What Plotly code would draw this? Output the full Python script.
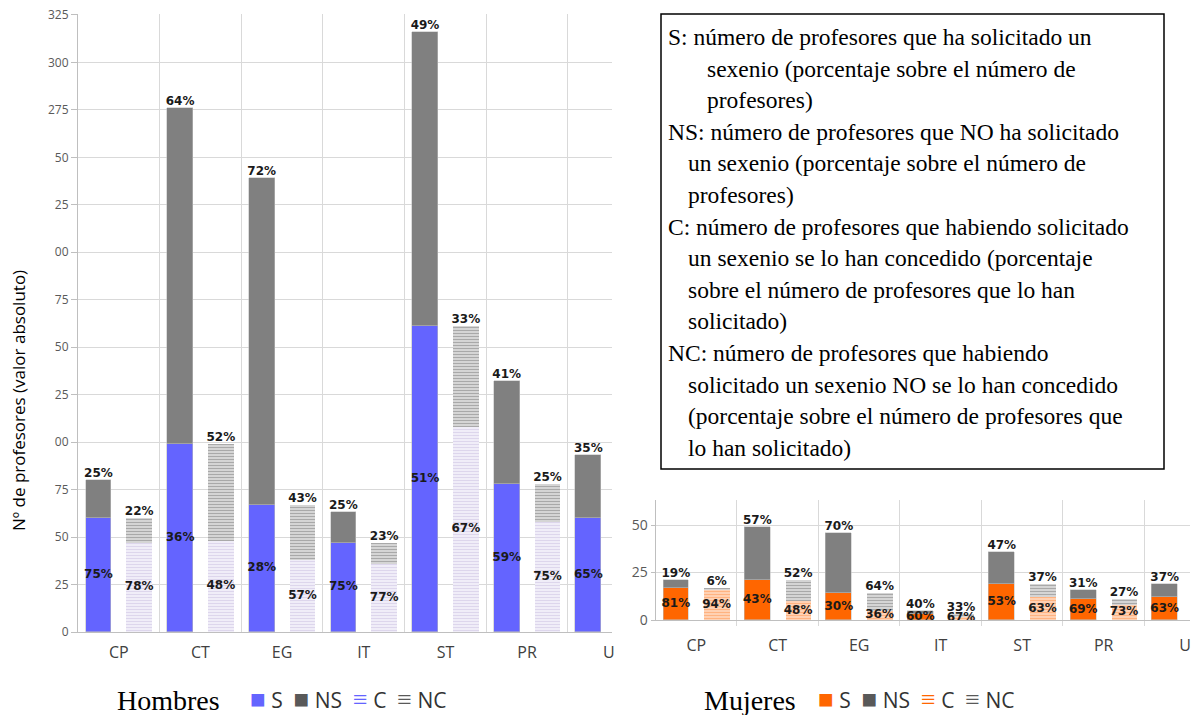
import plotly.graph_objects as go

# ---------------- data ----------------
categories = ["CP", "CT", "EG", "IT", "ST", "PR", "U"]

# Hombres
h_S = [60, 99, 67, 47, 161, 78, 60]
h_NS = [20, 177, 172, 16, 155, 54, 33]
h_C = [47, 48, 38, 36, 108, 58, None]
h_NC = [13, 51, 29, 11, 53, 20, None]
h_S_pct = ["75%", "36%", "28%", "75%", "51%", "59%", "65%"]
h_NS_pct = ["25%", "64%", "72%", "25%", "49%", "41%", "35%"]
h_C_pct = ["78%", "48%", "57%", "77%", "67%", "75%", None]
h_NC_pct = ["22%", "52%", "43%", "23%", "33%", "25%", None]

# Mujeres
m_S = [17, 21, 14, 3, 19, 11, 12]
m_NS = [4, 28, 32, 2, 17, 5, 7]
m_C = [16, 10, 5, 2, 12, 8, None]
m_NC = [1, 11, 9, 1, 7, 3, None]
m_S_pct = ["81%", "43%", "30%", "60%", "53%", "69%", "63%"]
m_NS_pct = ["19%", "57%", "70%", "40%", "47%", "31%", "37%"]
m_C_pct = ["94%", "48%", "36%", "67%", "63%", "73%", None]
m_NC_pct = ["6%", "52%", "64%", "33%", "37%", "27%", None]

h_yticks = [0, 25, 50, 75, 100, 125, 150, 175, 200, 225, 250, 275, 300, 325]
h_yticktext = ["0", "25", "50", "75", "00", "25", "50", "75", "00", "25", "50", "275", "300", "325"]
m_yticks = [0, 25, 50]

legend_text = [
    "S: número de profesores que ha solicitado un",
    "sexenio (porcentaje sobre el número de",
    "profesores)",
    "NS: número de profesores que NO ha solicitado",
    "un sexenio (porcentaje sobre el número de",
    "profesores)",
    "C: número de profesores que habiendo solicitado",
    "un sexenio se lo han concedido (porcentaje",
    "sobre el número de profesores que lo han",
    "solicitado)",
    "NC: número de profesores que habiendo",
    "solicitado un sexenio NO se lo han concedido",
    "(porcentaje sobre el número de profesores que",
    "lo han solicitado)",
]
legend_indent = [0, 2, 2, 0, 1, 1, 0, 1, 1, 1, 0, 1, 1, 1]

# ---------------- styles ----------------
W, H = 1193, 715
BLUE = "#6464ff"
ORANGE = "#ff6600"
GRAY = "#808080"
DARK = "#595959"
GRID = "#d9d9d9"
OFF = 0.25
BW = 0.315
LBL_FONT = dict(family="DejaVu Sans", size=12, color="#1a1a1a", weight="bold")

fig = go.Figure()


def add_group(S, NS, C, NC, Sp, NSp, Cp, NCp, s_color, c_fg, c_bg, xa, ya):
    n = len(categories)
    xl = [i - OFF for i in range(n)]
    xr = [i + OFF for i in range(n)]
    edge = dict(color="rgba(190,190,190,0.9)", width=0.6)
    fig.add_trace(go.Bar(x=xl, y=S, width=BW, marker=dict(color=s_color, line=edge),
                         xaxis=xa, yaxis=ya, showlegend=False, hoverinfo="skip"))
    fig.add_trace(go.Bar(x=xl, y=NS, width=BW, marker=dict(color=GRAY, line=edge),
                         xaxis=xa, yaxis=ya, showlegend=False, hoverinfo="skip"))
    fig.add_trace(go.Bar(x=xr, y=C, width=BW,
                         marker=dict(color=c_bg, line=dict(width=0),
                                     pattern=dict(shape="-", fgcolor=c_fg, bgcolor=c_bg,
                                                  size=3, solidity=0.5)),
                         xaxis=xa, yaxis=ya, showlegend=False, hoverinfo="skip"))
    fig.add_trace(go.Bar(x=xr, y=NC, width=BW,
                         marker=dict(color="#d9d9d9", line=dict(width=0),
                                     pattern=dict(shape="-", fgcolor="#6e6e6e", bgcolor="#e4e4e4",
                                                  size=3, solidity=0.5)),
                         xaxis=xa, yaxis=ya, showlegend=False, hoverinfo="skip"))
    # labels
    sx, sy, st = [], [], []
    tx, ty, tt = [], [], []
    for i in range(n):
        sx.append(xl[i]); sy.append(S[i] / 2); st.append(Sp[i])
        tx.append(xl[i]); ty.append(S[i] + NS[i]); tt.append(NSp[i])
        if C[i] is not None:
            sx.append(xr[i]); sy.append(C[i] / 2); st.append(Cp[i])
            tx.append(xr[i]); ty.append(C[i] + NC[i]); tt.append(NCp[i])
    fig.add_trace(go.Scatter(x=sx, y=sy, text=st, mode="text", textposition="middle center",
                             textfont=LBL_FONT, xaxis=xa, yaxis=ya, showlegend=False,
                             hoverinfo="skip", cliponaxis=False))
    fig.add_trace(go.Scatter(x=tx, y=ty, text=tt, mode="text", textposition="top center",
                             textfont=LBL_FONT, xaxis=xa, yaxis=ya, showlegend=False,
                             hoverinfo="skip", cliponaxis=False))


add_group(h_S, h_NS, h_C, h_NC, h_S_pct, h_NS_pct, h_C_pct, h_NC_pct,
          BLUE, "#c3b8de", "#f7f5fb", "x", "y")
add_group(m_S, m_NS, m_C, m_NC, m_S_pct, m_NS_pct, m_C_pct, m_NC_pct,
          ORANGE, "#ff8a3d", "#ffdcc4", "x2", "y2")

n = len(categories)
bounds = [i + 0.5 for i in range(n - 1)]


def xaxis_cfg(domain, rng, ticklen, minor_len):
    return dict(domain=domain, range=rng, tickmode="array", tickvals=list(range(n)),
                ticktext=categories, ticks="outside", ticklen=ticklen,
                tickcolor="rgba(0,0,0,0)", showgrid=False, zeroline=False,
                showline=True, linecolor="#bfbfbf", linewidth=1, automargin=False,
                tickfont=dict(family="Open Sans", size=16, color="#404040"),
                minor=dict(tickmode="array", tickvals=bounds, showgrid=True,
                           gridcolor=GRID, gridwidth=1,
                           ticks="outside" if minor_len else "", ticklen=minor_len,
                           tickcolor=GRID),
                fixedrange=True)


fig.update_layout(
    width=W, height=H,
    margin=dict(l=0, r=0, t=0, b=0, autoexpand=False),
    paper_bgcolor="white", plot_bgcolor="white",
    barmode="stack", bargap=0,
    xaxis=xaxis_cfg([78 / W, 612 / W], [-0.5, 6.04], 6, 0),
    yaxis=dict(domain=[83 / H, (H - 14) / H], range=[0, 325.5], tickmode="array",
               tickvals=h_yticks, ticktext=h_yticktext, showgrid=True, gridcolor=GRID,
               zeroline=False, showline=True, linecolor="#bfbfbf", ticks="outside",
               ticklen=6, tickcolor="#bfbfbf", automargin=False,
               tickfont=dict(family="Open Sans", size=12, color="#595959")),
    xaxis2=xaxis_cfg([655.5 / W, 1190 / W], [-0.5, 6.06], 11, 5),
    yaxis2=dict(domain=[(H - 620) / H, (H - 500) / H], range=[0, 63.2], tickmode="array",
                tickvals=m_yticks, showgrid=True, gridcolor=GRID, zeroline=False,
                showline=True, linecolor="#bfbfbf", ticks="outside", ticklen=4,
                tickcolor="#bfbfbf", anchor="x2", automargin=False,
                tickfont=dict(family="Open Sans", size=14, color="#595959")),
)
fig.layout.xaxis2.anchor = "y2"

annotations = []
# y-axis title
annotations.append(dict(text="Nº de profesores (valor absoluto)", x=18 / W, y=(H - 401) / H,
                        xref="paper", yref="paper", textangle=-90, showarrow=False,
                        font=dict(family="Open Sans", size=17, color="black"),
                        xanchor="center", yanchor="middle"))


def legend_row(c_main):
    sq = "<span style='font-size:26px;color:{}'>■</span>"
    eq = "<span style='font-size:26px;color:{}'>≡</span>"
    return (sq.format(c_main) + " S  " + sq.format(DARK) + " NS  "
            + eq.format(c_main) + " C  " + eq.format(DARK) + " NC")


# bottom legends
annotations.append(dict(text="Hombres", x=115 / W, y=(H - 700) / H, xref="paper", yref="paper",
                        showarrow=False, xanchor="left", yanchor="middle",
                        font=dict(family="Liberation Serif", size=28, color="black")))
annotations.append(dict(text=legend_row(BLUE), x=248 / W, y=(H - 698) / H,
                        xref="paper", yref="paper", showarrow=False,
                        xanchor="left", yanchor="middle",
                        font=dict(family="Open Sans", size=21, color="#333333")))
annotations.append(dict(text="Mujeres", x=702 / W, y=(H - 700) / H, xref="paper", yref="paper",
                        showarrow=False, xanchor="left", yanchor="middle",
                        font=dict(family="Liberation Serif", size=28, color="black")))
annotations.append(dict(text=legend_row(ORANGE), x=816 / W, y=(H - 698) / H,
                        xref="paper", yref="paper", showarrow=False,
                        xanchor="left", yanchor="middle",
                        font=dict(family="Open Sans", size=21, color="#333333")))

# definitions box
indent_px = {0: 666, 1: 686, 2: 705}
for k, line in enumerate(legend_text):
    py = 37 + k * 31.6
    annotations.append(dict(text=line, x=indent_px[legend_indent[k]] / W, y=(H - py) / H,
                            xref="paper", yref="paper", showarrow=False,
                            xanchor="left", yanchor="middle",
                            font=dict(family="Liberation Serif", size=23.5, color="black")))

fig.update_layout(annotations=annotations)
fig.add_shape(type="rect", xref="paper", yref="paper",
              x0=661 / W, x1=1164 / W, y0=(H - 469) / H, y1=(H - 14) / H,
              line=dict(color="black", width=1.5), fillcolor="rgba(0,0,0,0)")

fig.write_html("out.html", config={"displayModeBar": False},
               post_script="document.body.style.margin='0';")
